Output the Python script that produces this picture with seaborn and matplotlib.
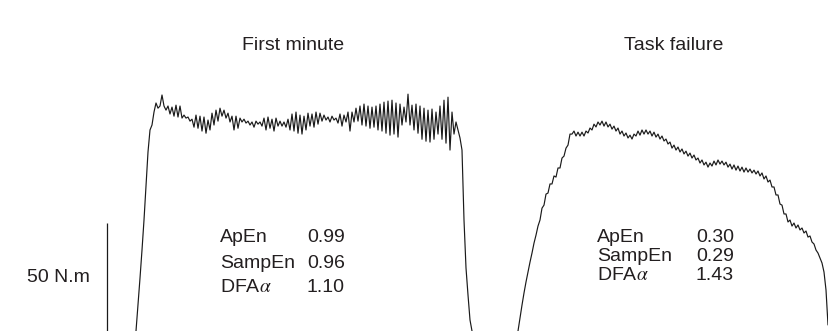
import numpy as np
import pandas as pd
import matplotlib
matplotlib.use("Agg")
import matplotlib.pyplot as plt
import seaborn as sns

sns.set_theme(style="white")
plt.rcParams['font.family'] = ['Liberation Sans', 'DejaVu Sans']
plt.rcParams['mathtext.fontset'] = 'stix'

DT = 0.2  # s between samples

# torque (N.m) sampled every DT seconds
first_minute = [
    0, 12.0, 24.5, 37.5, 51.4, 67.6, 82.9, 93.1, 95.4, 101.4,
    105.6, 103.2, 104.2, 109.3, 104.2, 102.3, 104.2, 100.5, 103.7, 99.5,
    104.6, 99.1, 104.2, 98.6, 100.0, 98.6, 99.1, 97.2, 98.1, 94.4,
    100.0, 93.9, 99.5, 92.6, 99.1, 91.6, 97.7, 93.1, 100.9, 95.4,
    102.3, 97.2, 103.2, 99.5, 102.3, 98.6, 100.9, 96.8, 99.5, 93.1,
    99.5, 93.9, 98.6, 96.8, 98.1, 96.3, 97.2, 95.4, 96.8, 94.4,
    97.2, 95.8, 96.8, 94.9, 98.6, 93.1, 99.1, 93.9, 98.1, 92.6,
    98.6, 94.9, 97.2, 94.9, 96.8, 94.4, 98.1, 93.1, 100.5, 92.6,
    101.4, 91.6, 100.0, 91.2, 99.5, 93.1, 100.9, 94.9, 100.5, 94.4,
    101.4, 95.8, 100.9, 97.2, 100.0, 97.7, 99.1, 96.8, 99.5, 97.7,
    98.6, 96.3, 100.5, 94.9, 100.0, 96.8, 101.4, 92.6, 101.4, 96.8,
    103.2, 97.2, 104.2, 95.4, 105.1, 94.9, 104.2, 93.9, 103.7, 94.4,
    104.2, 93.1, 105.1, 92.6, 106.0, 91.6, 106.5, 90.7, 106.9, 91.2,
    105.6, 89.8, 105.1, 95.4, 103.7, 96.8, 109.7, 95.4, 104.6, 93.1,
    105.1, 91.6, 104.2, 88.8, 103.2, 87.9, 102.3, 87.5, 102.8, 88.8,
    101.4, 91.2, 104.2, 88.8, 106.9, 87.0, 108.3, 83.8, 101.4, 91.2,
    96.8, 93.1, 89.4, 83.8, 51.4, 29.2, 16.7, 5.1, 0,
]

task_failure = [
    0, 6.0, 12.0, 17.6, 22.7, 27.3, 31.9, 36.1, 40.7, 44.4,
    48.6, 51.4, 56.9, 58.3, 63.4, 63.9, 68.1, 68.1, 71.8, 71.3,
    75.5, 75.5, 80.1, 81.0, 84.7, 86.1, 91.2, 91.2, 92.6, 90.3,
    92.1, 90.3, 92.1, 90.3, 92.6, 91.7, 94.0, 93.1, 95.8, 94.5,
    96.8, 95.4, 97.2, 94.9, 96.8, 94.5, 95.8, 93.5, 94.9, 92.6,
    94.0, 91.2, 92.6, 90.3, 91.7, 89.4, 90.7, 88.9, 91.2, 90.3,
    92.6, 90.7, 93.1, 91.2, 93.1, 91.2, 92.6, 90.3, 92.1, 89.8,
    91.2, 88.9, 90.3, 88.0, 88.9, 86.6, 87.5, 84.7, 86.1, 83.8,
    85.2, 82.9, 84.3, 82.0, 83.3, 81.0, 82.4, 80.1, 81.5, 79.2,
    80.1, 77.8, 79.2, 76.9, 78.2, 75.9, 77.8, 76.4, 78.7, 76.9,
    79.2, 77.3, 78.7, 76.9, 78.2, 75.9, 77.3, 75.0, 76.9, 74.5,
    76.4, 74.1, 75.9, 73.6, 75.5, 73.6, 75.0, 73.2, 74.5, 72.7,
    74.1, 71.8, 73.2, 70.4, 71.8, 69.0, 69.9, 66.7, 66.7, 63.0,
    63.0, 58.8, 58.3, 54.2, 54.2, 50.5, 51.4, 48.6, 50.0, 47.7,
    49.1, 46.8, 47.7, 45.4, 46.3, 43.5, 44.0, 41.2, 40.3, 37.5,
    36.1, 33.8, 31.5, 27.3, 19.0, 2.8,
]

titles = ["First minute", "Task failure"]
metric_names = ["ApEn", "SampEn", r"DFA$\alpha$"]
first_metrics = ["0.99", "0.96", "1.10"]
failure_metrics = ["0.30", "0.29", "1.43"]
SCALE_BAR = 50  # N.m

fig = plt.figure(figsize=(8.29, 3.31), dpi=100)
ax = fig.add_axes([0, 0, 1, 1])

for vals, start in [(first_minute, 13.6), (task_failure, 51.8)]:
    df = pd.DataFrame({"time": start + np.arange(len(vals)) * DT, "torque": vals})
    sns.lineplot(data=df, x="time", y="torque", ax=ax, color="#1a1a1a",
                 linewidth=0.85, sort=False, estimator=None)

ax.vlines(10.7, 0, SCALE_BAR, color="#1a1a1a", linewidth=0.9)
ax.set_xlim(0, 82.9)
ax.set_ylim(0, 153.3)
ax.axis("off")

txt = dict(fontsize=14, color="#231f20", va="center", transform=fig.transFigure)
W, H = 829, 331
fig.text(293 / W, 1 - 46 / H, titles[0], ha="center", **txt)
fig.text(674 / W, 1 - 46 / H, titles[1], ha="center", **txt)
fig.text(27 / W, 1 - 277 / H, f"{SCALE_BAR} N.m", ha="left", **txt)

for i, (name, v) in enumerate(zip(metric_names, first_metrics)):
    y = 1 - (238 + 25 * i) / H
    fig.text(220 / W, y, name, ha="left", **txt)
    fig.text(307 / W, y, v, ha="left", **txt)

for i, (name, v) in enumerate(zip(metric_names, failure_metrics)):
    y = 1 - (237 + 19.5 * i) / H
    fig.text(597 / W, y, name, ha="left", **txt)
    fig.text(696 / W, y, v, ha="left", **txt)

fig.savefig("out.png", dpi=100)
